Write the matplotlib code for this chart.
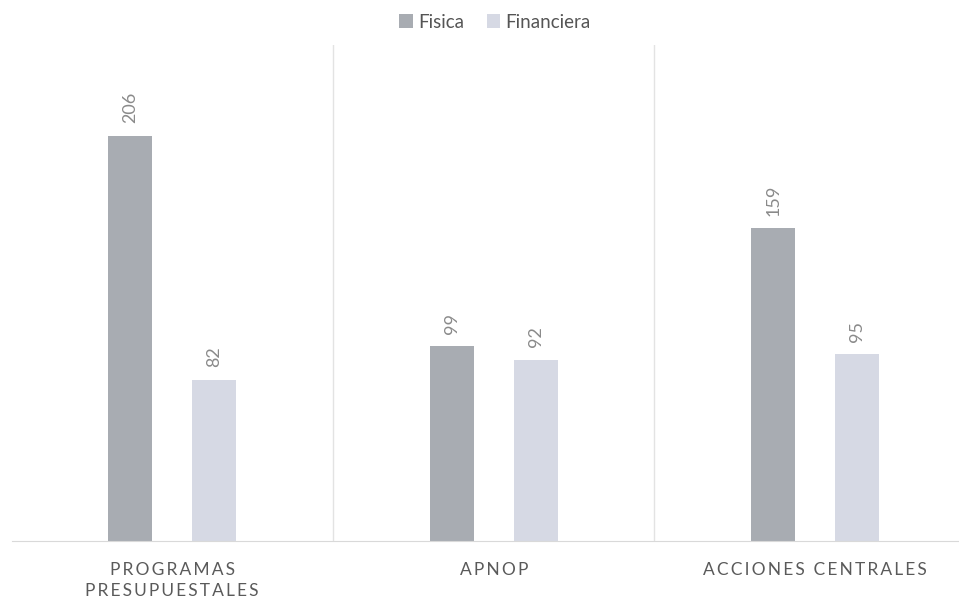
import numpy as np
import matplotlib.pyplot as plt

plt.rcParams['font.family'] = ['Lato', 'DejaVu Sans']

categories = ['PROGRAMAS\nPRESUPUESTALES', 'APNOP', 'ACCIONES CENTRALES']
series_names = ['Fisica', 'Financiera']
fisica = [206, 99, 159]
financiera = [82, 92, 95]

colors = ['#a8acb2', '#d6d9e4']
label_color = '#8a8a8a'


def spaced(s):
    # letter spacing like the original axis labels (thin space between chars)
    return '\n'.join('\u2009'.join(line) for line in s.split('\n'))


fig = plt.figure(figsize=(9.59, 6.03), dpi=100)
# plot area: left 11.5px, baseline 541px, top 45px, groups 321.5px wide
ax = fig.add_axes([11.5 / 959, (603 - 541) / 603, 3 * 321.5 / 959, (541 - 45) / 603])

x = np.arange(len(categories))
w = 0.137
off = 0.131

bars1 = ax.bar(x - off, fisica, w, color=colors[0], label=series_names[0])
bars2 = ax.bar(x + off, financiera, w, color=colors[1], label=series_names[1])

for bars, vals in [(bars1, fisica), (bars2, financiera)]:
    for b, v in zip(bars, vals):
        ax.annotate(str(v), (b.get_x() + b.get_width() / 2, b.get_height()),
                    xytext=(0, 9), textcoords='offset points',
                    rotation=90, ha='center', va='bottom',
                    fontsize=13, color=label_color)

ax.set_xlim(-0.5, len(categories) - 0.5)
ax.set_ylim(0, 252)

# separators between categories
for s in [0.5, 1.5]:
    ax.axvline(s, color='#e3e3e3', lw=1)

for sp in ['top', 'right', 'left']:
    ax.spines[sp].set_visible(False)
ax.spines['bottom'].set_color('#d9d9d9')
ax.set_yticks([])
ax.set_xticks(x)
ax.set_xticklabels([spaced(c) for c in categories], fontsize=12.5,
                   color='#5a5a5a', linespacing=1.4)
ax.tick_params(axis='x', length=0, pad=15)

fig.legend(loc='center', bbox_to_anchor=(495 / 959, 1 - 22 / 603), ncol=2,
           frameon=False, fontsize=13.5, handlelength=0.7, handleheight=0.7,
           handletextpad=0.3, columnspacing=1.2, labelcolor='#555555')

fig.savefig('out.png', dpi=100)
